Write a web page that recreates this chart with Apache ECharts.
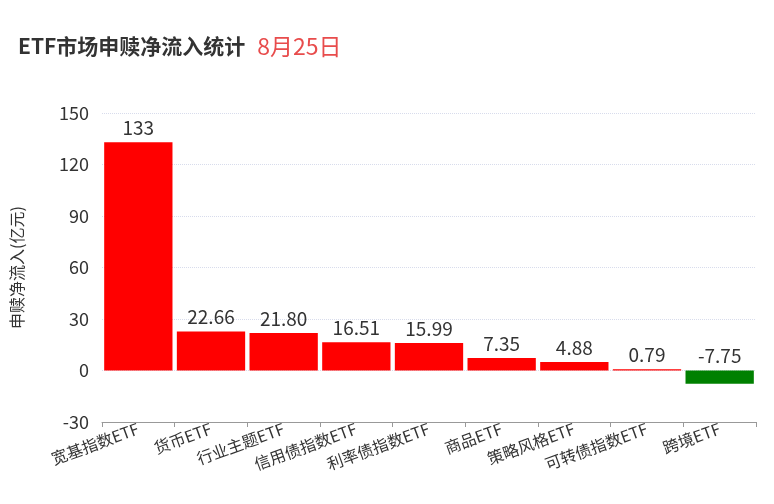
<!DOCTYPE html>
<html>
<head>
<meta charset="utf-8">
<script src="https://cdn.jsdelivr.net/npm/echarts@6/dist/echarts.min.js"></script>
<style>
  html, body { margin: 0; padding: 0; background: #fff; }
  #main { width: 774px; height: 504px; }
</style>
</head>
<body>
<div id="main"></div>
<script>
// 数据
var categories = ['宽基指数ETF', '货币ETF', '行业主题ETF', '信用债指数ETF', '利率债指数ETF', '商品ETF', '策略风格ETF', '可转债指数ETF', '跨境ETF'];
var netFlow = [133, 22.66, 21.80, 16.51, 15.99, 7.35, 4.88, 0.79, -7.75];
var labelText = ['133', '22.66', '21.80', '16.51', '15.99', '7.35', '4.88', '0.79', '-7.75'];
var yTicks = { min: -30, max: 150, interval: 30 };

var chartDom = document.getElementById('main');
var myChart = echarts.init(chartDom);
var option;

option = {
  backgroundColor: '#fff',
  textStyle: { fontFamily: '"Noto Sans CJK SC", "Noto Sans", sans-serif' },
  title: {
    left: 13,
    top: 30,
    text: '{a|ETF市场申赎净流入统计}{g|}{b|8月25日}',
    textStyle: {
      rich: {
        a: { fontSize: 21, fontWeight: 'bold', color: '#333' },
        g: { width: 12 },
        b: { fontSize: 23, fontWeight: 'normal', color: '#e84c4c' }
      }
    }
  },
  grid: {
    left: 102,
    right: 18,
    top: 113,
    bottom: 82,
    containLabel: false,
    outerBoundsMode: 'none'
  },
  xAxis: {
    type: 'category',
    data: categories,
    axisLine: { onZero: false, lineStyle: { color: '#999' } },
    axisTick: { show: true, lineStyle: { color: '#999' } },
    axisLabel: {
      interval: 0,
      rotate: 20,
      fontSize: 16,
      color: '#333',
      margin: 6
    }
  },
  yAxis: {
    type: 'value',
    min: yTicks.min,
    max: yTicks.max,
    interval: yTicks.interval,
    name: '申赎净流入(亿元)',
    nameLocation: 'middle',
    nameRotate: 90,
    nameGap: 77,
    nameTextStyle: { fontSize: 16, color: '#333' },
    axisLine: { show: false },
    axisTick: { show: false },
    axisLabel: { fontSize: 18, color: '#333', margin: 13 },
    splitLine: { lineStyle: { type: 'dotted', color: '#d8dcec' } }
  },
  series: [
    {
      name: '净流入',
      type: 'bar',
      barCategoryGap: '6%',
      data: netFlow.map(function (v, i) {
        return {
          value: v,
          itemStyle: { color: v >= 0 ? '#ff0000' : '#008000' },
          label: { formatter: labelText[i], position: 'top' }
        };
      }),
      label: {
        show: true,
        position: 'top',
        fontSize: 19,
        color: '#333',
        distance: 5
      }
    }
  ]
};

option && myChart.setOption(option);
</script>
</body>
</html>
